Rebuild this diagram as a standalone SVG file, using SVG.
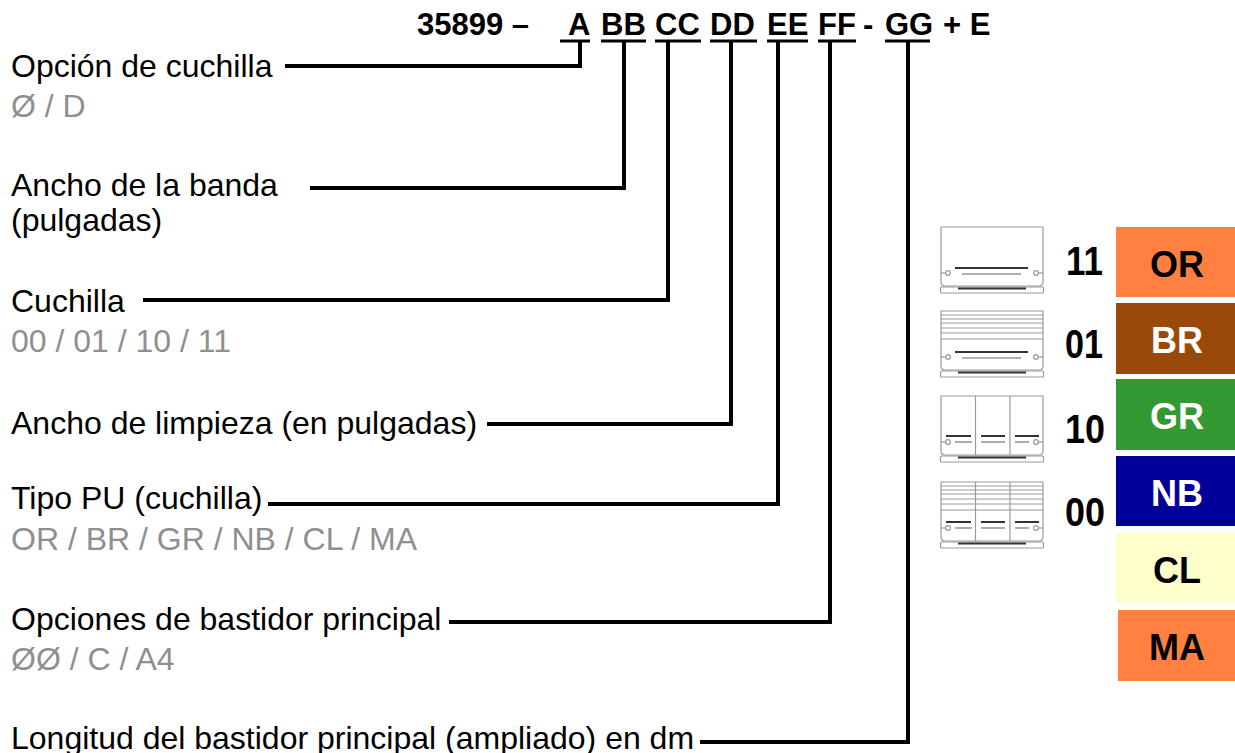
<svg xmlns="http://www.w3.org/2000/svg" width="1235" height="753" viewBox="0 0 1235 753">
<style>
  .t { font-family: "Liberation Sans", Arial, sans-serif; font-size: 32px; fill: #000; }
  .g { font-family: "Liberation Sans", Arial, sans-serif; font-size: 32px; fill: #8f8f8f; }
  .code { font-family: "Liberation Sans", Arial, sans-serif; font-size: 31px; font-weight: bold; fill: #000; }
  .num { font-family: "Liberation Sans", Arial, sans-serif; font-size: 40px; font-weight: bold; fill: #000; }
  .box { font-family: "Liberation Sans", Arial, sans-serif; font-size: 36px; font-weight: bold; text-anchor: middle; }
  .conn { fill: none; stroke: #000; stroke-width: 4; stroke-linejoin: miter; stroke-linecap: square; }
  .ul { stroke: #000; stroke-width: 3; }
  .ic { fill: #fff; stroke: #9a9a9a; stroke-width: 1.2; }
  .icl { stroke: #9a9a9a; stroke-width: 1.2; fill: none; }
  .dk { stroke: #333; stroke-width: 2; }
  .th { stroke: #666; stroke-width: 1.1; }
</style>
<defs>
  <g id="icbase">
    <path class="ic" d="M1,0 H103 V55 Q103,59 99,59 H5 Q1,59 1,55 Z"/>
    <rect class="ic" x="0.5" y="60" width="103" height="6" rx="1"/>
    <line class="dk" x1="18" y1="61.5" x2="86" y2="61.5"/>
    <circle class="ic" cx="8" cy="46" r="2.4"/>
    <circle class="ic" cx="96" cy="46" r="2.4"/>
    <line class="icl" x1="1" y1="46" x2="5.6" y2="46"/>
    <line class="icl" x1="98.4" y1="46" x2="103" y2="46"/>
  </g>
  <g id="stripes">
    <line class="icl" x1="1" y1="4" x2="103" y2="4"/>
    <line class="icl" x1="1" y1="8" x2="103" y2="8"/>
    <line class="icl" x1="1" y1="12" x2="103" y2="12"/>
    <line class="icl" x1="1" y1="17" x2="103" y2="17"/>
    <line class="icl" x1="1" y1="22" x2="103" y2="22"/>
    <line class="icl" x1="1" y1="28" x2="103" y2="28"/>
  </g>
  <g id="single">
    <line class="dk" x1="15" y1="41" x2="88" y2="41"/>
    <line class="th" x1="22" y1="47" x2="81" y2="47"/>
  </g>
  <g id="triple">
    <line class="icl" x1="35.5" y1="0" x2="35.5" y2="59"/>
    <line class="icl" x1="70" y1="0" x2="70" y2="59"/>
    <line class="dk" x1="6" y1="40" x2="31" y2="40"/>
    <line class="th" x1="15" y1="46" x2="32" y2="46"/>
    <line class="dk" x1="41" y1="40" x2="65" y2="40"/>
    <line class="th" x1="41" y1="46" x2="65" y2="46"/>
    <line class="dk" x1="75" y1="40" x2="99" y2="40"/>
    <line class="th" x1="75" y1="46" x2="89" y2="46"/>
  </g>
</defs>
<rect width="1235" height="753" fill="#fff"/>

<g id="code">
  <text class="code" y="35"><tspan x="417">35899 –</tspan><tspan x="568">A</tspan><tspan x="601">BB</tspan><tspan x="655">CC</tspan><tspan x="710">DD</tspan><tspan x="767">EE</tspan><tspan x="818">FF</tspan><tspan x="863">-</tspan><tspan x="885">GG</tspan><tspan x="943">+ E</tspan></text>
  <line class="ul" x1="560" y1="41" x2="590" y2="41"/>
  <line class="ul" x1="601" y1="41" x2="646" y2="41"/>
  <line class="ul" x1="655" y1="41" x2="701" y2="41"/>
  <line class="ul" x1="710" y1="41" x2="757" y2="41"/>
  <line class="ul" x1="767" y1="41" x2="808" y2="41"/>
  <line class="ul" x1="818" y1="41" x2="856" y2="41"/>
  <line class="ul" x1="885" y1="41" x2="930" y2="41"/>
</g>

<g id="connectors">
  <polyline class="conn" points="287,66 580,66 580,43"/>
  <polyline class="conn" points="312,188 624,188 624,43"/>
  <polyline class="conn" points="145,300 668,300 668,43"/>
  <polyline class="conn" points="489,424 731,424 731,43"/>
  <polyline class="conn" points="270,504 778,504 778,43"/>
  <polyline class="conn" points="451,622 830,622 830,43"/>
  <polyline class="conn" points="702,742 908,742 908,43"/>
</g>

<g id="label-a">
  <text class="t" x="11" y="77">Opción de cuchilla</text>
  <text class="g" x="11" y="117">Ø / D</text>
</g>
<g id="label-bb">
  <text class="t" x="11" y="196">Ancho de la banda</text>
  <text class="t" x="11" y="231">(pulgadas)</text>
</g>
<g id="label-cc">
  <text class="t" x="11" y="312">Cuchilla</text>
  <text class="g" x="11" y="352">00 / 01 / 10 / 11</text>
</g>
<g id="label-dd">
  <text class="t" x="11" y="434">Ancho de limpieza (en pulgadas)</text>
</g>
<g id="label-ee">
  <text class="t" x="11" y="509">Tipo PU (cuchilla)</text>
  <text class="g" x="11" y="550">OR / BR / GR / NB / CL / MA</text>
</g>
<g id="label-ff">
  <text class="t" x="11" y="630">Opciones de bastidor principal</text>
  <text class="g" x="11" y="670">ØØ / C / A4</text>
</g>
<g id="label-gg">
  <text class="t" x="11" y="749">Longitud del bastidor principal (ampliado) en dm</text>
</g>

<g id="blade-11">
  <g transform="translate(940,227)"><use href="#icbase"/><use href="#single"/></g>
  <text class="num" x="1066" y="275" textLength="37" lengthAdjust="spacingAndGlyphs">11</text>
</g>
<g id="blade-01">
  <g transform="translate(940,311)"><use href="#icbase"/><use href="#stripes"/><use href="#single"/></g>
  <text class="num" x="1065" y="358" textLength="38" lengthAdjust="spacingAndGlyphs">01</text>
</g>
<g id="blade-10">
  <g transform="translate(940,396)"><use href="#icbase"/><use href="#triple"/></g>
  <text class="num" x="1065" y="443" textLength="40" lengthAdjust="spacingAndGlyphs">10</text>
</g>
<g id="blade-00">
  <g transform="translate(940,482)"><use href="#icbase"/><use href="#stripes"/><use href="#triple"/></g>
  <text class="num" x="1065" y="526" textLength="40" lengthAdjust="spacingAndGlyphs">00</text>
</g>

<g id="pu-or">
  <rect x="1116" y="227" width="119" height="70" fill="#ff8040"/>
  <text class="box" x="1177" y="277" fill="#000">OR</text>
</g>
<g id="pu-br">
  <rect x="1116" y="303" width="119" height="71" fill="#994a0a"/>
  <text class="box" x="1177" y="353" fill="#fff">BR</text>
</g>
<g id="pu-gr">
  <rect x="1116" y="379" width="119" height="71" fill="#339933"/>
  <text class="box" x="1177" y="429" fill="#fff">GR</text>
</g>
<g id="pu-nb">
  <rect x="1116" y="456" width="119" height="70" fill="#000099"/>
  <text class="box" x="1177" y="506" fill="#fff">NB</text>
</g>
<g id="pu-cl">
  <rect x="1116" y="533" width="119" height="70" fill="#ffffcc"/>
  <text class="box" x="1177" y="583" fill="#000">CL</text>
</g>
<g id="pu-ma">
  <rect x="1118" y="610" width="117" height="71" fill="#ff8040"/>
  <text class="box" x="1177" y="660" fill="#000">MA</text>
</g>
</svg>
